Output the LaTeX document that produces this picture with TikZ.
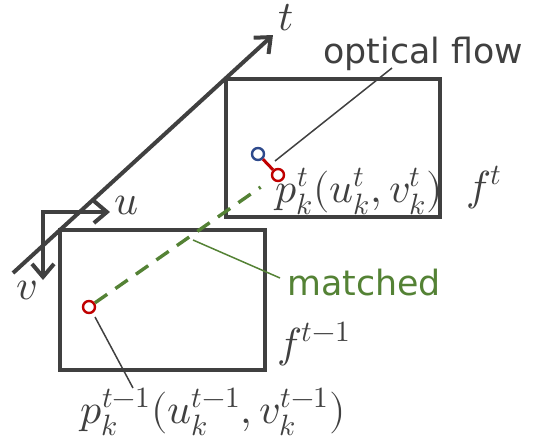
\documentclass[tikz,border=0pt]{standalone}
\usepackage{fontspec}
\usepackage{unicode-math}
\setsansfont{DejaVu Sans}
\usetikzlibrary{arrows.meta}

\definecolor{linegray}{HTML}{404040}
\definecolor{flowred}{HTML}{C00000}
\definecolor{flowblue}{HTML}{2E4A8C}
\definecolor{matchgreen}{HTML}{548235}

\tikzset{
  frame/.style={draw=linegray, line width=2.3pt},
  axis/.style={draw=linegray, line width=2pt},
  leader/.style={draw=linegray, line width=0.75pt},
  ptmark/.style={circle, draw, line width=1.2pt, fill=white, inner sep=0pt, minimum size=6pt},
  mathlabel/.style={text=linegray, font=\fontsize{21}{25}\selectfont, inner sep=0pt},
  textlabel/.style={font=\fontsize{17.4}{20}\selectfont\sffamily, inner sep=0pt}
}

\begin{document}
\begin{tikzpicture}[x=0.5pt, y=-0.5pt, >={Straight Barb[length=6.5pt,width=11pt]}]
    \useasboundingbox (0,0) rectangle (543,440);

    % image frames
    \coordinate (prevTL) at (60,230);
    \coordinate (prevBR) at (265,370);
    \coordinate (currTL) at (226,79);
    \coordinate (currBR) at (440,217);
    \draw[frame] (prevTL) rectangle (prevBR);
    \draw[frame] (currTL) rectangle (currBR);

    % time axis
    \coordinate (tstart) at (13,273);
    \coordinate (ttip) at (273,35);
    \draw[axis,->] (tstart) -- (ttip);
    \node[mathlabel] (tlabel) at (286,18) {$t$};

    % image axes
    \coordinate (origin) at (43,212);
    \coordinate (utip) at (110,212);
    \coordinate (vtip) at (43,280);
    \draw[axis,<->] (utip) -- (origin) -- (vtip);
    \node[mathlabel] (ulabel) at (127,205) {$u$};
    \node[mathlabel] (vlabel) at (27,290) {$v$};

    % points
    \node[ptmark, draw=flowred] (pprev) at (89,307) {};
    \node[ptmark, draw=flowblue] (pwarp) at (258,154) {};
    \node[ptmark, draw=flowred] (pcurr) at (278,175) {};

    % match and flow
    \draw[matchgreen, line width=1.7pt, dash pattern=on 7.5pt off 5pt, shorten >=7pt] (pprev) -- (pcurr);
    \draw[flowred, line width=1.5pt] (pwarp) -- (pcurr);

    % labels
    \node[mathlabel, anchor=base west] (pcurrlabel) at (275,202) {$p_k^t(u_k^t,v_k^t)$};
    \node[mathlabel, anchor=base west] (ftlabel) at (466,200) {$f^t$};
    \node[mathlabel, anchor=base west] (fprevlabel) at (277,357) {$f^{t-1}$};
    \node[mathlabel, anchor=base west] (pprevlabel) at (80,423) {$p_k^{t-1}(u_k^{t-1},v_k^{t-1})$};
    \node[textlabel, text=linegray, anchor=base west] (flowlabel) at (323,63) {optical flow};
    \node[textlabel, text=matchgreen, anchor=base west] (matchlabel) at (287,295) {matched};

    % leader lines
    \coordinate (flowfrom) at (275,161);
    \coordinate (flowto) at (392,68);
    \draw[leader] (flowfrom) -- (flowto);
    \coordinate (matchfrom) at (193,240);
    \coordinate (matchto) at (280,278);
    \draw[leader, draw=matchgreen] (matchfrom) -- (matchto);
    \coordinate (prevfrom) at (95,317);
    \coordinate (prevto) at (133,388);
    \draw[leader] (prevfrom) -- (prevto);
\end{tikzpicture}
\end{document}
